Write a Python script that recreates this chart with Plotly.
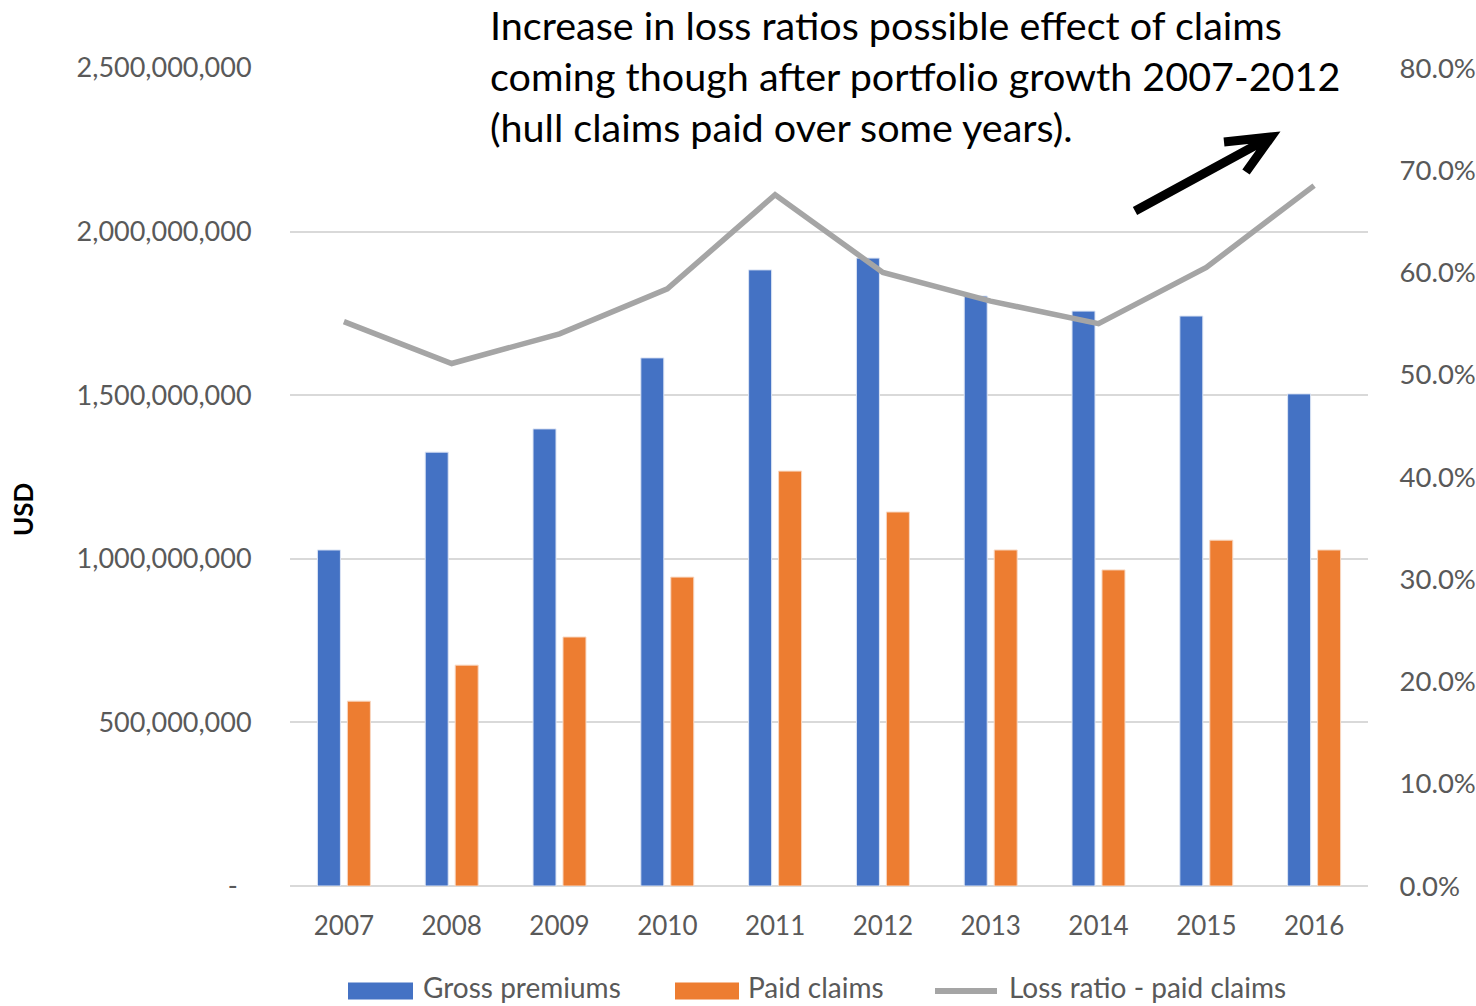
import plotly.graph_objects as go

# Portfolio figures by underwriting year
years = ["2007", "2008", "2009", "2010", "2011", "2012", "2013", "2014", "2015", "2016"]
gross_premiums = [1027e6, 1326e6, 1397e6, 1614e6, 1883e6, 1919e6, 1803e6, 1757e6, 1742e6, 1504e6]
paid_claims = [565e6, 675e6, 761e6, 944e6, 1268e6, 1143e6, 1027e6, 966e6, 1057e6, 1027e6]
loss_ratio = [0.552, 0.511, 0.540, 0.584, 0.676, 0.600, 0.572, 0.550, 0.605, 0.685]

usd_ticks = [0, 5e8, 1e9, 1.5e9, 2e9, 2.5e9]
usd_labels = ["-\u00a0\u00a0", "500,000,000", "1,000,000,000", "1,500,000,000",
              "2,000,000,000", "2,500,000,000"]
pct_ticks = [0, 0.1, 0.2, 0.3, 0.4, 0.5, 0.6, 0.7, 0.8]

note_lines = [
    "Increase in loss ratios possible effect of claims",
    "coming though after portfolio growth 2007-2012",
    "(hull claims paid over some years).",
]

BLUE = "#4472C4"
ORANGE = "#ED7D31"
GREY = "#A5A5A5"
TXT = "#595959"
FONT = "Lato, 'Open Sans', sans-serif"

W, H = 1476, 1006
L, R, T, B = 290, 1368, 68, 886


def px(x):
    return (x - L) / (R - L)


def py(y):
    return (B - y) / (B - T)


fig = go.Figure()
fig.add_trace(go.Bar(x=years, y=gross_premiums, name="Gross premiums",
                     marker=dict(color=BLUE, line=dict(color="#DCE4F4", width=1)),
                     showlegend=False))
fig.add_trace(go.Bar(x=years, y=paid_claims, name="Paid claims",
                     marker=dict(color=ORANGE, line=dict(color="#F8D8C2", width=1)),
                     showlegend=False))
fig.add_trace(go.Scatter(x=years, y=loss_ratio, name="Loss ratio - paid claims",
                         yaxis="y2", mode="lines",
                         line=dict(color=GREY, width=5.5), showlegend=False))

fig.update_layout(
    width=W, height=H,
    margin=dict(l=L, r=W - R, t=T, b=H - B, autoexpand=False),
    paper_bgcolor="white", plot_bgcolor="white",
    barmode="group", bargap=0.444, bargroupgap=0.233,
    font=dict(family=FONT, size=26, color=TXT),
    xaxis=dict(type="category", showgrid=False, showline=False, zeroline=False,
               ticks="outside", ticklen=17, tickcolor="rgba(0,0,0,0)",
               tickfont=dict(size=26, color=TXT)),
    yaxis=dict(range=[0, 2.5e9], tickvals=usd_ticks, ticktext=usd_labels,
               showgrid=True, gridcolor="#D9D9D9", gridwidth=2,
               zeroline=True, zerolinecolor="#D9D9D9", zerolinewidth=2,
               ticks="outside", ticklen=32, tickcolor="rgba(0,0,0,0)",
               tickfont=dict(size=27, color=TXT)),
    yaxis2=dict(range=[0, 0.8], tickvals=pct_ticks, tickformat=".1%",
                overlaying="y", side="right", showgrid=False, zeroline=False,
                ticks="outside", ticklen=25, tickcolor="rgba(0,0,0,0)",
                tickfont=dict(size=27.5, color=TXT)),
)

# Axis title
fig.add_annotation(text="<b>USD</b>", x=px(23), y=py(510), xref="paper", yref="paper",
                   xanchor="center", yanchor="middle",
                   textangle=-90, showarrow=False,
                   font=dict(size=26, color="black", family=FONT))

# Commentary text
for i, line in enumerate(note_lines):
    fig.add_annotation(text=line, x=px(488), y=py(24 + 51 * i), xref="paper", yref="paper",
                       xanchor="left", yanchor="middle", showarrow=False,
                       font=dict(size=39.5, color="black", family=FONT))

# Trend arrow: shaft plus open arrowhead
tail, tip = (1135, 211), (1271, 137)
arm1, arm2 = (1224, 142), (1246, 172)
arrow_path = (f"M {px(tail[0])} {py(tail[1])} L {px(tip[0])} {py(tip[1])} "
              f"M {px(arm1[0])} {py(arm1[1])} L {px(tip[0])} {py(tip[1])} "
              f"L {px(arm2[0])} {py(arm2[1])}")
fig.add_shape(type="path", xref="paper", yref="paper", path=arrow_path,
              line=dict(color="black", width=9))

# Legend row
ly = 991
fig.add_shape(type="rect", xref="paper", yref="paper",
              x0=px(348), x1=px(413), y0=py(ly - 8.5), y1=py(ly + 8.5),
              fillcolor=BLUE, line=dict(width=0))
fig.add_shape(type="rect", xref="paper", yref="paper",
              x0=px(675), x1=px(739), y0=py(ly - 8.5), y1=py(ly + 8.5),
              fillcolor=ORANGE, line=dict(width=0))
fig.add_shape(type="line", xref="paper", yref="paper",
              x0=px(935), x1=px(997), y0=py(ly), y1=py(ly),
              line=dict(color=GREY, width=6))
for label, x0 in [("Gross premiums", 421), ("Paid claims", 746),
                  ("Loss ratio - paid claims", 1007)]:
    fig.add_annotation(text=label, x=px(x0), y=py(1006), xref="paper", yref="paper",
                       xanchor="left", yanchor="bottom", showarrow=False,
                       font=dict(size=28, color=TXT, family=FONT))

fig.write_html("out.html")
